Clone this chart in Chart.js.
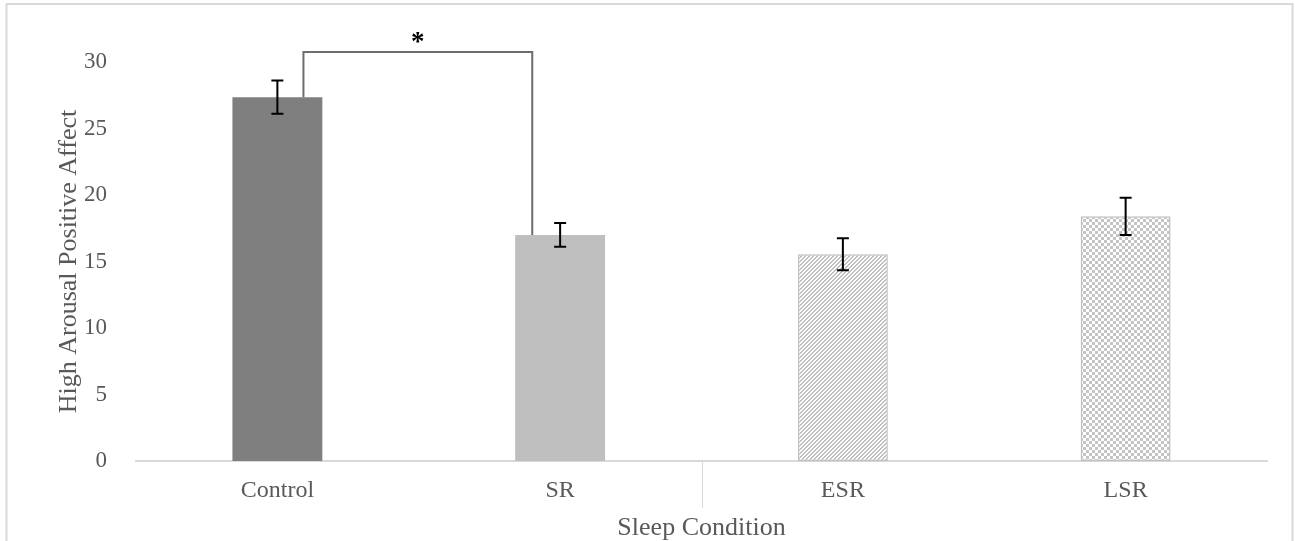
<!DOCTYPE html>
<html>
<head>
<meta charset="utf-8">
<script src="https://cdn.jsdelivr.net/npm/chart.js@4/dist/chart.umd.min.js"></script>
<style>
  html, body { margin: 0; padding: 0; background: #ffffff; }
  #wrap { width: 1295px; height: 541px; position: relative; }
</style>
</head>
<body>
<div id="wrap"><canvas id="chart-affect" width="1295" height="541"></canvas></div>
<script>
const categories = ['Control', 'SR', 'ESR', 'LSR'];
const means = [27.35, 17.0, 15.55, 18.4];
const errors = [1.25, 0.9, 1.2, 1.4];
const yMin = 0;
const yMax = 30;
const yStep = 5;
// significance bracket between Control and SR
const sigPair = [0, 1];
const sigLevel = 30.75;
const sigLabel = '*';

const FONT = "'Liberation Serif', 'Times New Roman', serif";

function makeHatch() {
    const c = document.createElement('canvas');
    c.width = 8; c.height = 8;
    const g = c.getContext('2d');
    g.fillStyle = '#ffffff';
    g.fillRect(0, 0, 8, 8);
    g.fillStyle = '#bfbfbf';
    for (let y = 0; y < 8; y++) {
        for (let x = 0; x < 8; x++) {
            if ((x + y) % 4 < 2) g.fillRect(x, y, 1, 1);
        }
    }
    return g.createPattern(c, 'repeat');
}

function makeChecker() {
    const c = document.createElement('canvas');
    c.width = 6; c.height = 6;
    const g = c.getContext('2d');
    g.fillStyle = '#ffffff';
    g.fillRect(0, 0, 6, 6);
    g.fillStyle = '#c4c4c4';
    g.fillRect(0, 0, 3, 3);
    g.fillRect(3, 3, 3, 3);
    return g.createPattern(c, 'repeat');
}

const barFills = ['#7f7f7f', '#bfbfbf', makeHatch(), makeChecker()];
const barBorders = [0, 0, 1.5, 1.5];

const framePlugin = {
    id: 'frame',
    beforeDraw(chart) {
        const ctx = chart.ctx;
        ctx.save();
        ctx.fillStyle = '#ffffff';
        ctx.fillRect(0, 0, chart.width, chart.height);
        ctx.strokeStyle = '#d9d9d9';
        ctx.lineWidth = 2;
        ctx.strokeRect(6.5, 4, chart.width - 9, chart.height + 20);
        ctx.restore();
    }
};

const extrasPlugin = {
    id: 'extras',
    afterDatasetsDraw(chart) {
        const ctx = chart.ctx;
        const x = chart.scales.x;
        const y = chart.scales.y;
        const bars = chart.getDatasetMeta(0).data;
        ctx.save();

        // divider tick between SR and ESR
        const mid = (x.getPixelForValue(1) + x.getPixelForValue(2)) / 2;
        ctx.strokeStyle = '#d9d9d9';
        ctx.lineWidth = 1;
        ctx.beginPath();
        ctx.moveTo(Math.round(mid) + 0.5, y.getPixelForValue(0));
        ctx.lineTo(Math.round(mid) + 0.5, y.getPixelForValue(0) + 47);
        ctx.stroke();

        // error bars
        ctx.strokeStyle = '#000000';
        ctx.lineWidth = 2;
        means.forEach((m, i) => {
            const cx = bars[i].x;
            const top = y.getPixelForValue(m + errors[i]);
            const bot = y.getPixelForValue(m - errors[i]);
            ctx.beginPath();
            ctx.moveTo(cx, top);
            ctx.lineTo(cx, bot);
            ctx.moveTo(cx - 6, top);
            ctx.lineTo(cx + 6, top);
            ctx.moveTo(cx - 6, bot);
            ctx.lineTo(cx + 6, bot);
            ctx.stroke();
        });

        // significance bracket
        const a = bars[sigPair[0]];
        const b = bars[sigPair[1]];
        const xa = a.x + a.width * 0.29;
        const xb = b.x - b.width * 0.31;
        const ya = y.getPixelForValue(means[sigPair[0]]);
        const yb = y.getPixelForValue(means[sigPair[1]]);
        const yl = y.getPixelForValue(sigLevel);
        ctx.strokeStyle = '#6d6d6d';
        ctx.lineWidth = 2;
        ctx.beginPath();
        ctx.moveTo(xa, ya);
        ctx.lineTo(xa, yl);
        ctx.lineTo(xb, yl);
        ctx.lineTo(xb, yb);
        ctx.stroke();

        ctx.fillStyle = '#000000';
        ctx.font = 'bold 27px ' + FONT;
        ctx.textAlign = 'center';
        ctx.textBaseline = 'alphabetic';
        ctx.fillText(sigLabel, (xa + xb) / 2, yl - 2);
        ctx.restore();
    }
};

new Chart(document.getElementById('chart-affect').getContext('2d'), {
    type: 'bar',
    data: {
        labels: categories,
        datasets: [{
            data: means,
            backgroundColor: barFills,
            borderColor: '#bfbfbf',
            borderWidth: barBorders,
            borderSkipped: false,
            categoryPercentage: 1.0,
            barPercentage: 0.318
        }]
    },
    options: {
        responsive: false,
        animation: false,
        devicePixelRatio: 1,
        layout: { padding: { left: 10, right: 28, top: 62, bottom: 0 } },
        plugins: {
            legend: { display: false },
            tooltip: { enabled: false }
        },
        scales: {
            x: {
                grid: { display: false },
                border: { display: true, color: '#d9d9d9', width: 2 },
                ticks: { color: '#595959', font: { family: FONT, size: 24 }, padding: 7, maxRotation: 0 },
                title: {
                    display: true,
                    text: 'Sleep Condition',
                    color: '#595959',
                    font: { family: FONT, size: 26, lineHeight: 1.0 },
                    padding: { top: 0, bottom: 0 }
                },
                afterFit(scale) { scale.height = 80; }
            },
            y: {
                min: yMin,
                max: yMax,
                grid: { display: false },
                border: { display: false },
                ticks: { stepSize: yStep, color: '#595959', font: { family: FONT, size: 23 }, padding: 21 },
                title: {
                    display: true,
                    text: 'High Arousal Positive Affect',
                    color: '#595959',
                    font: { family: FONT, size: 26 },
                    padding: { top: 44, bottom: 0 }
                },
                afterFit(scale) { scale.width = 126; }
            }
        }
    },
    plugins: [framePlugin, extrasPlugin]
});
</script>
</body>
</html>
